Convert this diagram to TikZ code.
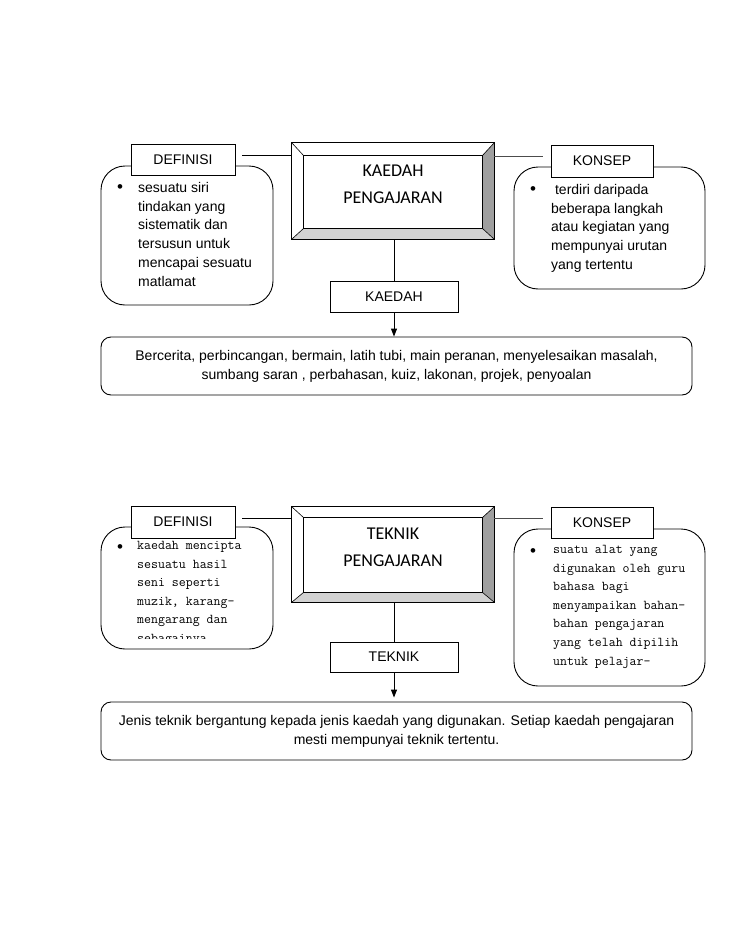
\documentclass[tikz,border=0pt]{standalone}
\usepackage{fontspec}
\setmainfont{Liberation Sans}
\newfontfamily\calib{Carlito}
\usetikzlibrary{arrows.meta}
\begin{document}
\begin{tikzpicture}[x=1pt,y=-1pt,
  lbl/.style={draw, fill=white, line width=0.8pt, inner sep=0, font=\fontsize{14}{17}\selectfont},
  card/.style={draw, rounded corners=24pt, line width=0.9pt, inner sep=0},
  bigcard/.style={draw, rounded corners=10pt, line width=0.9pt, inner sep=0, align=center, font=\fontsize{14}{19}\selectfont},
  body/.style={font=\fontsize{14}{18.8}\selectfont, align=left, inner sep=0, anchor=north west},
  mono/.style={font=\ttfamily\fontsize{13.5}{18.6}\selectfont, align=left, inner sep=0, anchor=north west},
  bul/.style={font=\fontsize{17}{17}\selectfont, inner sep=0, anchor=center},
  btitle/.style={font=\calib\fontsize{18}{27}\selectfont, align=center, inner sep=0},
  conn/.style={line width=0.9pt},
  arr/.style={line width=0.9pt, -{Triangle[width=6pt,length=8pt]}}
]
\useasboundingbox[fill=white] (0,0) rectangle (728,942);

% ================= TOP SECTION =================
\node[card, minimum width=172pt, minimum height=139pt] (defc1) at (187,235.5) {};
\node[card, minimum width=191pt, minimum height=122pt] (konc1) at (609.5,228) {};
\node[lbl, minimum width=104pt, minimum height=31pt] (def1) at (183,159.5) {DEFINISI};
\node[lbl, minimum width=102pt, minimum height=32pt] (kon1) at (602,161) {KONSEP};

\node[bul] (b1) at (120,188.5) {•};
\node[body] (t1) at (138,182) {sesuatu siri\\tindakan yang\\sistematik dan\\tersusun untuk\\mencapai sesuatu\\matlamat};
\node[bul] (b2) at (533,190.5) {•};
\node[body] (t2) at (551,184) {\ terdiri daripada\\beberapa langkah\\atau kegiatan yang\\mempunyai urutan\\yang tertentu};

% bevel box
\node[minimum width=202pt, minimum height=96pt, inner sep=0] (kp1) at (393,191) {};
\node[minimum width=178pt, minimum height=72pt, inner sep=0] (kp1i) at (393,192) {};
\fill[gray!75] (kp1.north east) -- (kp1.south east) -- (kp1i.south east) -- (kp1i.north east) -- cycle;
\fill[gray!35] (kp1.south west) -- (kp1.south east) -- (kp1i.south east) -- (kp1i.south west) -- cycle;
\draw[line width=0.8pt] (kp1.north west) rectangle (kp1.south east);
\draw[line width=0.8pt] (kp1i.north west) rectangle (kp1i.south east);
\draw[line width=0.6pt] (kp1.north west) -- (kp1i.north west) (kp1.north east) -- (kp1i.north east)
  (kp1.south west) -- (kp1i.south west) (kp1.south east) -- (kp1i.south east);
\node[btitle] (kt1) at (393,184) {KAEDAH\\PENGAJARAN};

\node[lbl, minimum width=128pt, minimum height=31pt] (kd) at (394,296.5) {KAEDAH};
\node[bigcard, minimum width=591pt, minimum height=58pt] (big1) at (396.5,366)
  {Bercerita, perbincangan, bermain, latih tubi, main peranan, menyelesaikan masalah,\\
   sumbang saran , perbahasan, kuiz, lakonan, projek, penyoalan};

\coordinate (l1a) at (242,155);
\draw[conn] (l1a) -- (l1a -| kp1.west);
\coordinate (r1a) at (543,156);
\draw[conn, black!70] (r1a -| kp1.east) -- (r1a);
\draw[conn] (kd.north |- kp1.south) -- (kd.north);
\draw[arr] (kd.south) -- (kd.south |- big1.north);

% ================= BOTTOM SECTION =================
\node[card, minimum width=172pt, minimum height=122pt] (defc2) at (187,588) {};
\node[card, minimum width=191pt, minimum height=157pt] (konc2) at (609.5,607.5) {};
\node[lbl, minimum width=104pt, minimum height=32pt] (def2) at (183,522) {DEFINISI};
\node[lbl, minimum width=102pt, minimum height=31pt] (kon2) at (602,522.5) {KONSEP};

\node[bul] (b3) at (120,549) {•};
\begin{scope}
\clip (100,530) rectangle (275,638);
\node[mono] (t3) at (137,541) {kaedah mencipta\\sesuatu hasil\\seni seperti\\muzik, karang-\\mengarang dan\\sebagainya};
\end{scope}
\node[bul] (b4) at (533,553) {•};
\node[mono] (t4) at (553,545) {suatu alat yang\\digunakan oleh guru\\bahasa bagi\\menyampaikan bahan-\\bahan pengajaran\\yang telah dipilih\\untuk pelajar-};

\node[minimum width=202pt, minimum height=95pt, inner sep=0] (kp2) at (393,554.5) {};
\node[minimum width=178pt, minimum height=74pt, inner sep=0] (kp2i) at (393,555) {};
\fill[gray!75] (kp2.north east) -- (kp2.south east) -- (kp2i.south east) -- (kp2i.north east) -- cycle;
\fill[gray!35] (kp2.south west) -- (kp2.south east) -- (kp2i.south east) -- (kp2i.south west) -- cycle;
\draw[line width=0.8pt] (kp2.north west) rectangle (kp2.south east);
\draw[line width=0.8pt] (kp2i.north west) rectangle (kp2i.south east);
\draw[line width=0.6pt] (kp2.north west) -- (kp2i.north west) (kp2.north east) -- (kp2i.north east)
  (kp2.south west) -- (kp2i.south west) (kp2.south east) -- (kp2i.south east);
\node[btitle] (kt2) at (393,547) {TEKNIK\\PENGAJARAN};

\node[lbl, minimum width=128pt, minimum height=30pt] (tk) at (394,657) {TEKNIK};
\node[bigcard, minimum width=591pt, minimum height=58pt] (big2) at (396.5,731)
  {Jenis teknik bergantung kepada jenis kaedah yang digunakan. Setiap kaedah pengajaran\\
   mesti mempunyai teknik tertentu.};

\coordinate (l2a) at (242,518);
\draw[conn] (l2a) -- (l2a -| kp2.west);
\coordinate (r2a) at (543,518);
\draw[conn, black!70] (r2a -| kp2.east) -- (r2a);
\draw[conn] (tk.north |- kp2.south) -- (tk.north);
\draw[arr, shorten >=4pt] (tk.south) -- (tk.south |- big2.north);
\end{tikzpicture}
\end{document}
